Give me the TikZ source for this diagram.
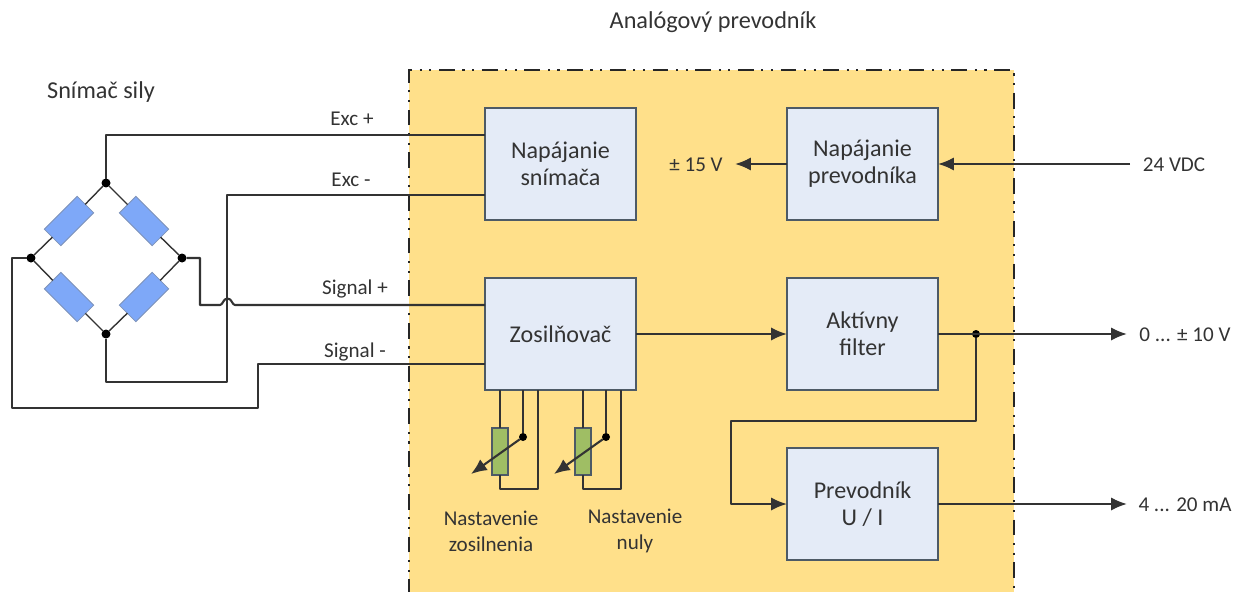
\documentclass[tikz,border=0pt]{standalone}
\usepackage{fontspec}
\usetikzlibrary{arrows.meta}
\setmainfont{Carlito}
\definecolor{boxyellow}{HTML}{FFE08A}
\definecolor{boxblue}{HTML}{E4EBF7}
\definecolor{boxline}{HTML}{4D5A66}
\definecolor{resblue}{HTML}{7EA8F8}
\definecolor{resline}{HTML}{7F93B8}
\definecolor{resgreen}{HTML}{9FBE64}
\definecolor{wirecol}{HTML}{333333}
\definecolor{textcol}{HTML}{333333}
\begin{document}
\begin{tikzpicture}[x=0.02cm, y=-0.02cm]
\tikzset{ >=latex, inner sep=0pt, outer sep=0pt,
  wire/.style={draw=wirecol, line width=1.2pt, line join=round},
  sig/.style={wire, ->, >={Latex[length=9pt,width=7.5pt]}},
  block/.style={draw=boxline, fill=boxblue, line width=1.4pt, minimum width=3.02cm, minimum height=2.24cm, align=center, font=\fontsize{13.7}{15.3}\selectfont, text=textcol},
  res/.style={draw=resline, fill=resblue, line width=0.5pt, minimum width=0.93cm, minimum height=0.47cm},
  trim/.style={draw=boxline, fill=resgreen, line width=1pt, minimum width=0.31cm, minimum height=0.93cm},
  dot/.style={fill=black, circle, minimum size=0.18cm},
  lab/.style={align=center, font=\fontsize{12}{14.7}\selectfont, text=textcol},
  head/.style={lab, font=\fontsize{13.8}{15}\selectfont},
}

\useasboundingbox (0,0) rectangle (1239,591);

% analog converter area
\fill [boxyellow] (409,70) rectangle (1014,595);
\draw [black!85, line width=1.4pt, dash pattern=on 9pt off 4.3pt on 1.2pt off 4.3pt on 1.2pt off 4.3pt] (409,595) -- (409,70) -- (1014,70) -- (1014,595);

\node [block] (NS) at (560.5,164) {Napájanie\\snímača};
\node [block] (NP) at (862.5,164) {Napájanie\\prevodníka};
\node [block] (ZO) at (560.5,334) {Zosilňovač};
\node [block] (AF) at (862.5,334) {Aktívny\\filter};
\node [block] (PR) at (862.5,504) {Prevodník\\U / I};

% bridge
\node [dot] (T) at (106,183) {};
\node [dot] (L) at (31,258) {};
\node [dot] (R) at (182,258) {};
\node [dot] (B) at (106,334) {};
\node [res, rotate=45]  (RTL) at (69,221) {};
\node [res, rotate=-45] (RTR) at (144,221) {};
\node [res, rotate=-45] (RBL) at (69,297) {};
\node [res, rotate=45]  (RBR) at (144,297) {};

\draw [draw=wirecol, line width=0.8pt] (T) -- (RTL) -- (L);
\draw [draw=wirecol, line width=0.8pt] (T) -- (RTR) -- (R);
\draw [draw=wirecol, line width=0.8pt] (L) -- (RBL) -- (B);
\draw [draw=wirecol, line width=0.8pt] (R) -- (RBR) -- (B);

% wires to the converter
\coordinate (EP) at (485,135);
\coordinate (EM) at (485,195);
\coordinate (SP) at (485,305);
\coordinate (SM) at (485,364);
\coordinate (J1) at (220,305);
\coordinate (J2) at (235,305);

\draw [wire] (T) |- (EP);
\draw [wire] (B) -- (106,382) -- (227,382) -- (227,195) -- (EM);
\draw [wire] (R) -- (200,258) -- (200,305) -- (J1) .. controls (223,305) and (223,298.5) .. (227.5,298.5) .. controls (232,298.5) and (232,305) .. (J2) -- (SP);
\draw [wire] (L) -- (12,258) -- (12,408) -- (258,408) -- (258,364) -- (SM);

% trimmers
\node [trim] (TA) at (500,451.5) {};
\node [trim] (TB) at (583,451.5) {};
\node [dot, minimum size=0.16cm] (DA) at (523,437) {};
\node [dot, minimum size=0.16cm] (DB) at (606,437) {};
\coordinate (AA) at (471,474);
\coordinate (AB) at (554,474);

\draw [wire] (500,390) -- (TA);
\draw [wire] (523,390) -- (DA);
\draw [wire] (538,390) -- (538,489) -- (500,489) -- (TA);
\draw [wire] (583,390) -- (TB);
\draw [wire] (606,390) -- (DB);
\draw [wire] (621,390) -- (621,489) -- (583,489) -- (TB);
\draw [sig] (DA) -- (AA);
\draw [sig] (DB) -- (AB);

% signal paths
\node [dot, minimum size=0.16cm] (FD) at (976,334) {};
\coordinate (E15) at (735,164);
\coordinate (E24) at (1130,164);
\coordinate (E10) at (1127,334);
\coordinate (EMA) at (1127,504);

\draw [sig] (NP) -- (E15);
\draw [sig] (E24) -- (NP);
\draw [sig] (ZO) -- (AF);
\draw [sig] (AF) -- (E10);
\draw [sig] (PR) -- (EMA);
\draw [sig] (FD) -- (976,421) -- (731,421) -- (731,504) -- (PR);

\node [lab] (V15) at (696,165) {± 15 V};
\node [lab] (V24) at (1174,165) {24 VDC};
\node [lab] (V10) at (1185,335) {0 ... ± 10 V};
\node [lab] (MA) at (1185,505) {4 ... 20 mA};
\node [head] (TI) at (713,22) {Analógový prevodník};
\node [head] (SN) at (101,92) {Snímač sily};
\node [lab] (LEP) at (352,119) {Exc +};
\node [lab] (LEM) at (351,180) {Exc -};
\node [lab] (LSP) at (355,289) {Signal +};
\node [lab] (LSM) at (355,352) {Signal -};
\node [lab] (LA) at (491,531) {Nastavenie\\zosilnenia};
\node [lab] (LB) at (635,531) {Nastavenie\\nuly};

\end{tikzpicture}
\end{document}
